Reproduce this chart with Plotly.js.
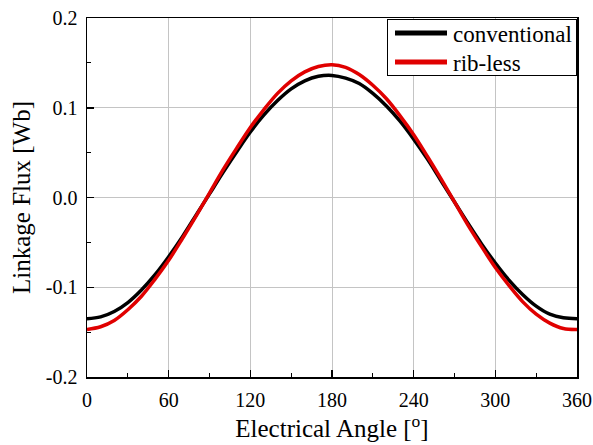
<!DOCTYPE html>
<html>
<head>
<meta charset="utf-8">
<script src="https://cdn.plot.ly/plotly-3.0.1.min.js"></script>
<style>
  html, body { margin: 0; padding: 0; background: #fff; }
  #chart { width: 593px; height: 445px; }
</style>
</head>
<body>
<div id="chart"></div>
<script>
// Electrical angle (degrees)
const angle = [0, 10, 20, 30, 40, 50, 60, 70, 80, 90, 100, 110, 120, 130, 140, 150, 160, 170, 180,
               190, 200, 210, 220, 230, 240, 250, 260, 270, 280, 290, 300, 310, 320, 330, 340, 350, 360];
// Linkage flux [Wb], conventional
const conventional = [-0.135, -0.133, -0.127, -0.117, -0.103, -0.086, -0.066, -0.044, -0.020, 0.004,
                      0.028, 0.051, 0.073, 0.092, 0.108, 0.121, 0.130, 0.135, 0.136,
                      0.133, 0.127, 0.116, 0.102, 0.085, 0.065, 0.043, 0.019, -0.005,
                      -0.029, -0.052, -0.073, -0.092, -0.108, -0.121, -0.130, -0.134, -0.135];
// Linkage flux [Wb], rib-less
const ribless = [-0.147, -0.144, -0.137, -0.125, -0.110, -0.091, -0.070, -0.046, -0.021, 0.005,
                 0.031, 0.055, 0.078, 0.098, 0.116, 0.130, 0.140, 0.146, 0.148,
                 0.145, 0.137, 0.125, 0.110, 0.091, 0.070, 0.046, 0.021, -0.005,
                 -0.031, -0.055, -0.078, -0.098, -0.116, -0.130, -0.140, -0.146, -0.147];

const xTickVals = [0, 60, 120, 180, 240, 300, 360];
const xTickText = ['0', '60', '120', '180', '240', '300', '360'];
const yTickVals = [-0.2, -0.1, 0.0, 0.1, 0.2];
const yTickText = ['-0.2', '-0.1', '0.0', '0.1', '0.2'];

const serif = 'Liberation Serif';

const traces = [
  { x: angle, y: conventional, name: 'conventional', type: 'scatter', mode: 'lines',
    line: { color: '#000000', width: 3.5, shape: 'spline' } },
  { x: angle, y: ribless, name: 'rib-less', type: 'scatter', mode: 'lines',
    line: { color: '#e00000', width: 3.5, shape: 'spline' } }
];

const layout = {
  width: 593, height: 445,
  margin: { l: 87, r: 16, t: 18, b: 68 },
  paper_bgcolor: '#ffffff', plot_bgcolor: '#ffffff',
  font: { family: serif, color: '#000', size: 20 },
  showlegend: true,
  legend: {
    x: 1, y: 1, xanchor: 'right', yanchor: 'top',
    bgcolor: '#ffffff', bordercolor: '#000', borderwidth: 1,
    font: { family: serif, size: 23, color: '#000' },
    tracegroupgap: 0
  },
  xaxis: {
    range: [0, 360],
    tickvals: xTickVals, ticktext: xTickText,
    ticks: 'inside', ticklen: 7, tickwidth: 1.5, tickcolor: '#000',
    minor: { ticks: 'inside', dtick: 30, tick0: 0, ticklen: 4, tickwidth: 1.2, tickcolor: '#000', showgrid: false },
    showgrid: true, gridcolor: '#c4c4c4', gridwidth: 1,
    showline: true, linecolor: '#000', linewidth: 1.5, mirror: true,
    zeroline: false,
    tickfont: { family: serif, size: 20, color: '#000' },
    ticklabelstandoff: 4,
    title: { text: 'Electrical Angle [<sup>o</sup>]', font: { family: serif, size: 25, color: '#000' }, standoff: 10 }
  },
  yaxis: {
    range: [-0.2, 0.2],
    tickvals: yTickVals, ticktext: yTickText,
    ticks: 'inside', ticklen: 7, tickwidth: 1.5, tickcolor: '#000',
    minor: { ticks: 'inside', dtick: 0.05, tick0: 0, ticklen: 4, tickwidth: 1.2, tickcolor: '#000', showgrid: false },
    showgrid: true, gridcolor: '#c4c4c4', gridwidth: 1,
    showline: true, linecolor: '#000', linewidth: 1.5, mirror: true,
    zeroline: false,
    tickfont: { family: serif, size: 20, color: '#000' },
    ticklabelstandoff: 4,
    title: { text: 'Linkage Flux [Wb]', font: { family: serif, size: 25, color: '#000' }, standoff: 8 }
  }
};

Plotly.newPlot('chart', traces, layout, { displayModeBar: false, staticPlot: true }).then(function (gd) {
  // Compact the legend box to match the reference look (longer sample lines, tighter rows)
  try {
    const leg = gd.querySelector('g.legend');
    if (!leg) return;
    const fl = gd._fullLayout;
    const boxW = 190, boxH = 57;
    const right = fl.margin.l + fl._size.w;
    const top = fl._size.t + 1;
    leg.setAttribute('transform', 'translate(' + (right - boxW) + ',' + top + ')');
    const bg = leg.querySelector('rect.bg');
    if (bg) {
      bg.setAttribute('x', 0.5); bg.setAttribute('y', 0.5);
      bg.setAttribute('width', boxW - 1); bg.setAttribute('height', boxH - 1);
    }
    const sb = leg.querySelector('g.scrollbox');
    if (sb) { sb.removeAttribute('clip-path'); sb.setAttribute('transform', 'translate(0,0)'); }
    const groups = leg.querySelectorAll('g.groups');
    groups.forEach(function (g) { g.setAttribute('transform', 'translate(0,0)'); });
    const items = leg.querySelectorAll('g.traces');
    items.forEach(function (t, i) {
      t.setAttribute('transform', 'translate(0,' + (14 + 29 * i) + ')');
      t.querySelectorAll('g.legendlines path').forEach(function (p) {
        p.setAttribute('d', 'M8,0h52');
        p.style.strokeWidth = '5px';
      });
      const txt = t.querySelector('text.legendtext');
      if (txt) {
        txt.setAttribute('x', 66);
        txt.querySelectorAll('tspan').forEach(function (ts) { if (ts.hasAttribute('x')) ts.setAttribute('x', 66); });
      }
      const tog = t.querySelector('rect.legendtoggle');
      if (tog) tog.setAttribute('width', boxW);
    });
    const scb = leg.querySelector('rect.scrollbar');
    if (scb) scb.setAttribute('width', 0);
  } catch (e) { /* keep default legend */ }
});
</script>
</body>
</html>
